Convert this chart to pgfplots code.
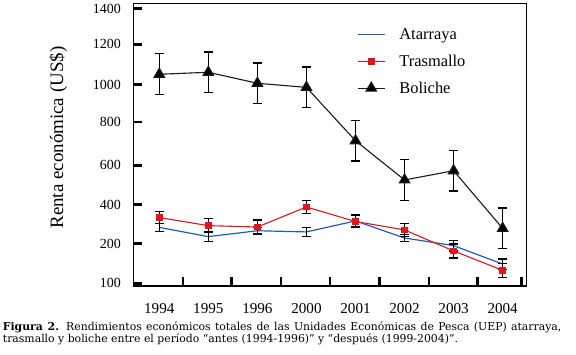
\documentclass[border=0pt]{standalone}
\usepackage{pgfplots}
\pgfplotsset{compat=1.18}
\usepackage{fontspec}
\setmainfont{Liberation Serif}
\newfontfamily\capfont{DejaVu Serif}

\definecolor{atarraya}{RGB}{30,95,175}
\definecolor{trasmallo}{RGB}{226,20,30}
\definecolor{boliche}{RGB}{25,25,25}

\begin{document}
\begin{tikzpicture}
  \path[use as bounding box] (0,0) rectangle (576bp,355bp);
  \begin{axis}[
      at={(133.3bp,69bp)}, anchor=south west,
      scale only axis,
      width=393.4bp, height=282.7bp,
      xmin=-0.53, xmax=7.49,
      ymin=-13.8, ymax=1427.8,
      axis line style={line width=1.1bp},
      tick style={black, line width=2.6bp},
      major tick length=8.5bp,
      xtick pos=bottom, ytick pos=left,
      xtick={0.48,1.47,2.48,3.48,4.49,5.5,6.49,7.39},
      xticklabels={,,,,,,,},
      extra x ticks={0,1,2,3,4,5,6,7},
      extra x tick labels={1994,1995,1996,2000,2001,2002,2003,2004},
      extra x tick style={major tick length=0pt},
      ytick={0,201.9,400.8,601.7,822.5,1012.8,1218.8,1400.4},
      yticklabels={100,200,400,600,800,1000,1200,1400},
      xticklabel style={yshift=-13.5bp, font=\fontsize{15.2}{17}\selectfont},
      yticklabel style={xshift=-8.9bp, font=\fontsize{14}{16}\selectfont},
      ylabel={Renta económica (US\$)},
      ylabel style={at={(axis description cs:-0.191,0.525)}, anchor=center,
        font=\fontsize{19}{22}\selectfont},
      legend style={draw=none, fill=none, at={(rel axis cs:0.561,0.926)},
        anchor=north west, font=\fontsize{16.5}{19}\selectfont, row sep=10bp,
        /tikz/every odd column/.append style={column sep=12bp}},
      legend cell align=left,
      legend image code/.code={
        \draw[mark repeat=2, mark phase=2, #1]
          plot coordinates {(0bp,0bp) (13.5bp,0bp) (27bp,0bp)};},
      error bars/y dir=both,
      error bars/y explicit,
      error bars/error bar style={black, line width=1.3bp},
      error bars/error mark options={rotate=90, black, mark size=4.6bp, line width=1.3bp},
    ]

    \addplot[draw=atarraya, line width=1.2bp, no markers]
      coordinates {
        (0,285) +- (0,21)
        (1,238) +- (0,26)
        (2,268) +- (0,18)
        (3,262) +- (0,22)
        (4,318) +- (0,31)
        (5,231) +- (0,18)
        (6,192) +- (0,28)
        (7,98)  +- (0,26)
      };
    \addlegendentry{Atarraya}

    \addplot[color=trasmallo, line width=1.1bp, mark=square*, mark size=2.8bp,
        mark options={fill=trasmallo, solid}]
      coordinates {
        (0,335) +- (0,30)
        (1,294) +- (0,36)
        (2,287) +- (0,36)
        (3,389) +- (0,32)
        (4,315) +- (0,32)
        (5,272) +- (0,33)
        (6,165) +- (0,36)
        (7,66)  +- (0,36)
      };
    \addlegendentry{Trasmallo}

    \addplot[color=boliche, line width=1.1bp, mark=triangle*, mark size=6bp,
        mark options={fill=black, solid}]
      coordinates {
        (0,1066) +- (0,105)
        (1,1076) +- (0,104)
        (2,1020) +- (0,104)
        (3,999)  +- (0,104)
        (4,727)  +- (0,104)
        (5,527)  +- (0,104)
        (6,574)  +- (0,104)
        (7,280)  +- (0,104)
      };
    \addlegendentry{Boliche}
  \end{axis}

  \node[anchor=north west, inner sep=0pt, text width=558.5bp, align=justify,
      font=\capfont\fontsize{10.9}{12}\selectfont] at (2.7bp,33.5bp)
    {\textbf{Figura 2.} Rendimientos económicos totales de las Unidades Económicas de Pesca (UEP) atarraya,\linebreak
     trasmallo y boliche entre el período “antes (1994-1996)” y “después (1999-2004)”.};
\end{tikzpicture}
\end{document}
